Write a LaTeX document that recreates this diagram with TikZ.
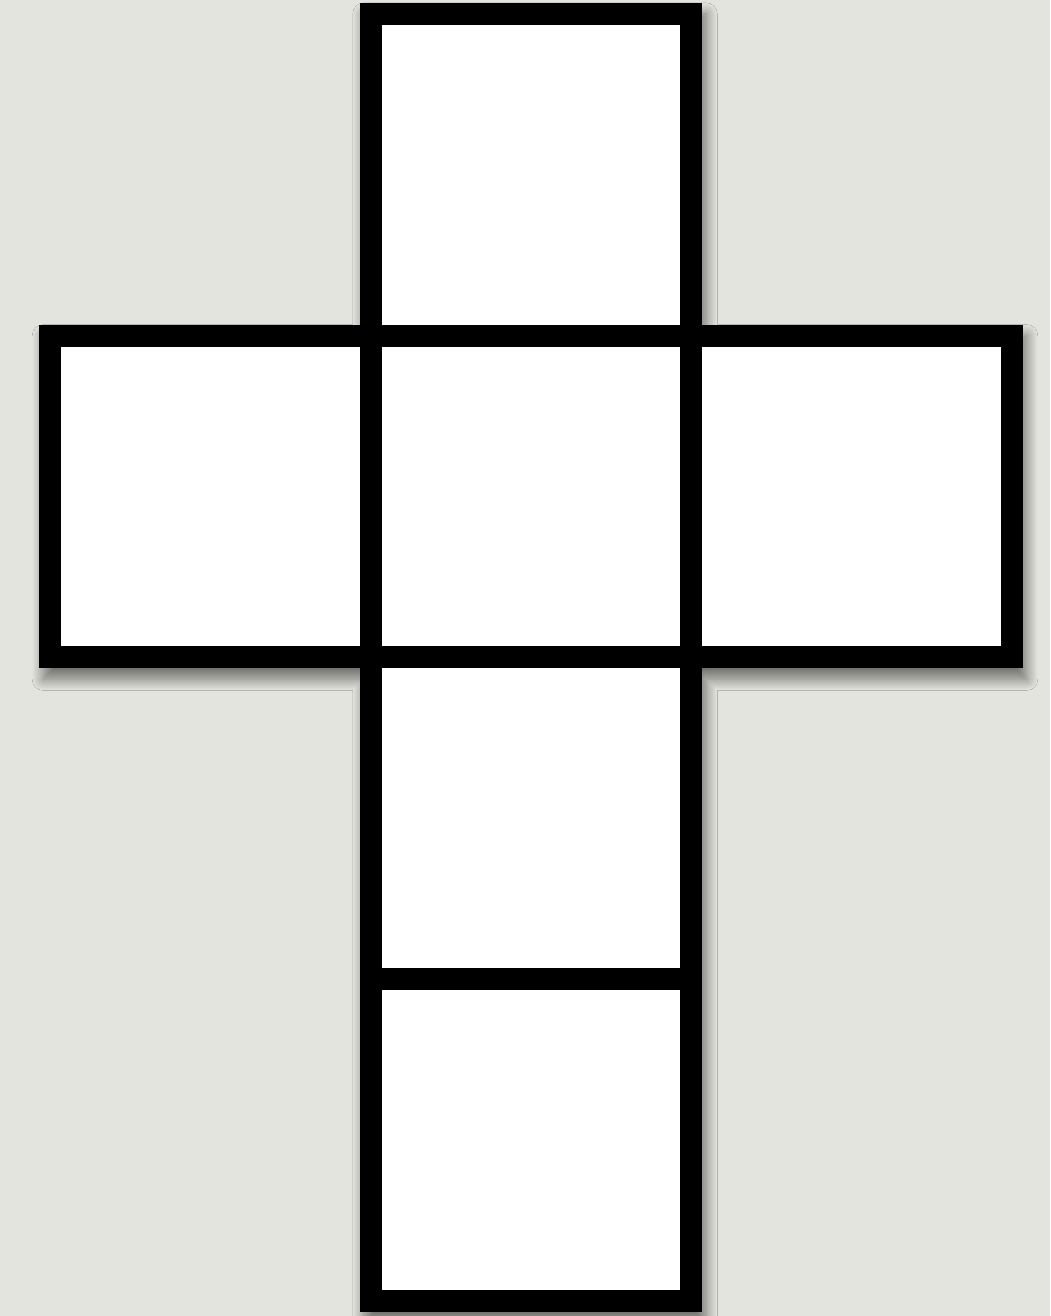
\documentclass[tikz,border=0pt]{standalone}
\usepackage{tikz}
\usetikzlibrary{positioning, backgrounds, calc, shadows.blur}
\usepackage{xcolor}
\definecolor{paper}{RGB}{228,228,222}
\newcommand{\halfw}{0.22}
\tikzset{
  face/.style={draw=black, fill=white, line width=0.44cm, outer sep=0pt,
               minimum width=6.41cm, minimum height=6.435cm, inner sep=0pt}
}

\begin{document}
\begin{tikzpicture}[node distance=0pt]
        % the six faces of the net
        \node[face] (centre) at (10.62,16.39) {};
        \node[face, above=of centre] (top) {};
        \node[face, left=of centre] (left) {};
        \node[face, right=of centre] (right) {};
        \node[face, below=of centre] (lower) {};
        \node[face, below=of lower] (bottom) {};

        \begin{scope}[on background layer]
          \fill[paper] (0,0) rectangle (21,26.32);
          \path[blur shadow={shadow xshift=0.08cm, shadow yshift=-0.22cm,
                             shadow blur radius=0.22cm, shadow blur steps=16,
                             shadow opacity=50}]
            ([shift={(-\halfw,\halfw)}]top.north west) -- ([shift={(\halfw,\halfw)}]top.north east)
            -- ([shift={(\halfw,\halfw)}]right.north west) -- ([shift={(\halfw,\halfw)}]right.north east)
            -- ([shift={(\halfw,-\halfw)}]right.south east) -- ([shift={(\halfw,-\halfw)}]right.south west)
            -- ([shift={(\halfw,-\halfw)}]bottom.south east) -- ([shift={(-\halfw,-\halfw)}]bottom.south west)
            -- ([shift={(-\halfw,-\halfw)}]left.south east) -- ([shift={(-\halfw,-\halfw)}]left.south west)
            -- ([shift={(-\halfw,\halfw)}]left.north west) -- ([shift={(-\halfw,\halfw)}]left.north east)
            -- cycle;
        \end{scope}
      \end{tikzpicture}
\end{document}
